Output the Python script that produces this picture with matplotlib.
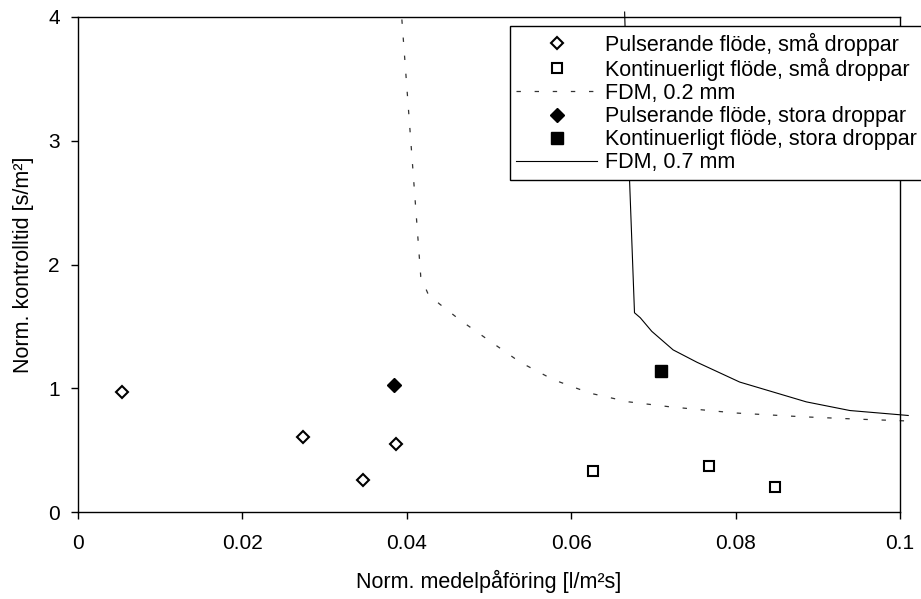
import matplotlib
matplotlib.use('Agg')
import matplotlib.pyplot as plt
from matplotlib.ticker import FixedLocator, FixedFormatter

plt.rcParams['font.family'] = ['Liberation Sans', 'DejaVu Sans']

# small droplets, pulsed flow
puls_sma_x = [0.0054, 0.0274, 0.0347, 0.0387]
puls_sma_y = [0.97, 0.61, 0.26, 0.55]
# small droplets, continuous flow
kont_sma_x = [0.0627, 0.0768, 0.0848]
kont_sma_y = [0.33, 0.37, 0.20]
# large droplets
puls_stora_x = [0.0384]
puls_stora_y = [1.03]
kont_stora_x = [0.0709]
kont_stora_y = [1.14]

# FDM curves
fdm02_x = [0.0394, 0.0417, 0.0426, 0.0440, 0.0465, 0.0497, 0.0538, 0.0578,
           0.0623, 0.0670, 0.0720, 0.0800, 0.0880, 0.0950, 0.1012]
fdm02_y = [3.98, 1.90, 1.76, 1.68, 1.55, 1.40, 1.21, 1.07,
           0.96, 0.89, 0.85, 0.80, 0.77, 0.75, 0.735]
fdm07_x = [0.0665, 0.0671, 0.0677, 0.0684, 0.0698, 0.0724, 0.0753, 0.0805,
           0.0886, 0.0939, 0.1010]
fdm07_y = [4.04, 2.68, 1.61, 1.57, 1.46, 1.31, 1.21, 1.05,
           0.89, 0.82, 0.78]

xticks = [0, 0.02, 0.04, 0.06, 0.08, 0.1]
xticklabels = ['0', '0.02', '0.04', '0.06', '0.08', '0.1']
yticks = [0, 1, 2, 3, 4]

fig = plt.figure(figsize=(9.21, 5.99), dpi=100)
ax = fig.add_axes([78 / 921, 1 - 512 / 599, 822 / 921, 495 / 599])

ax.plot(puls_sma_x, puls_sma_y, ls='none', marker='D', ms=6.5, mfc='white',
        mec='black', mew=1.5, label='Pulserande flöde, små droppar')
ax.plot(kont_sma_x, kont_sma_y, ls='none', marker='s', ms=7.5, mfc='white',
        mec='black', mew=1.5, label='Kontinuerligt flöde, små droppar')
ax.plot(fdm02_x, fdm02_y, color='#333333', lw=0.9, dashes=(3.5, 11),
        clip_on=False, label='FDM, 0.2 mm')
ax.plot(puls_stora_x, puls_stora_y, ls='none', marker='D', ms=7.5, mfc='black',
        mec='black', label='Pulserande flöde, stora droppar')
ax.plot(kont_stora_x, kont_stora_y, ls='none', marker='s', ms=8, mfc='black',
        mec='black', label='Kontinuerligt flöde, stora droppar')
ax.plot(fdm07_x, fdm07_y, color='black', lw=0.8, clip_on=False,
        label='FDM, 0.7 mm')

ax.set_xlim(0, 0.1)
ax.set_ylim(0, 4)
ax.xaxis.set_major_locator(FixedLocator(xticks))
ax.xaxis.set_major_formatter(FixedFormatter(xticklabels))
ax.set_yticks(yticks)
ax.tick_params(axis='both', direction='out', length=5, width=1, labelsize=15)
ax.tick_params(axis='x', pad=11)
ax.tick_params(axis='y', pad=8)
for s in ax.spines.values():
    s.set_linewidth(1)

ax.set_xlabel('Norm. medelpåföring [l/m²s]', fontsize=15.5, labelpad=12)
ax.set_ylabel('Norm. kontrolltid [s/m²]', fontsize=15.5, labelpad=10)

leg = ax.legend(loc='upper left', bbox_to_anchor=(510 / 921, 1 - 26 / 599),
                bbox_transform=fig.transFigure, fontsize=15.5, frameon=True,
                fancybox=False, edgecolor='black', framealpha=1,
                borderpad=0.3, labelspacing=0.1, handlelength=3.75,
                handletextpad=0.37, borderaxespad=0)
leg.get_frame().set_linewidth(1)

fig.savefig('out.png', dpi=100)
